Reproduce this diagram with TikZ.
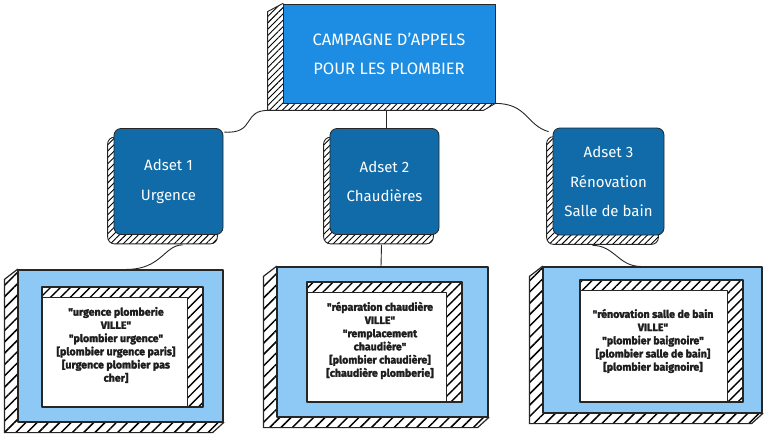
\documentclass[tikz,border=0pt]{standalone}
\usepackage{fontspec}
\setmainfont{Fira Sans}
\newfontfamily\kwfont{Fira Sans}[BoldFeatures={FakeBold=2.5}]
\usetikzlibrary{calc,backgrounds,patterns.meta}
\definecolor{campblue}{RGB}{28,141,226}
\definecolor{adblue}{RGB}{16,107,168}
\definecolor{kwblue}{RGB}{142,201,245}
\definecolor{kwink}{RGB}{30,30,30}

\begin{document}
\begin{tikzpicture}[
  x=1pt, y=-1pt,
  line join=round,
  campbox/.style={rectangle, draw=black!85, fill=campblue, line width=.8pt, inner sep=0pt,
    minimum width=212pt, minimum height=99pt, text=white, align=center,
    font=\fontsize{16.5}{29}\selectfont},
  adbox/.style={rectangle, rounded corners=7pt, draw=black!85, fill=adblue, line width=.8pt,
    inner sep=0pt, minimum width=109pt, minimum height=106pt, text=white, align=center,
    font=\fontsize{15}{29.5}\selectfont},
  kwbox/.style={rectangle, draw=black!85, fill=kwblue, line width=1.2pt, inner sep=0pt},
  kwlist/.style={rectangle, draw=black!85, line width=1.1pt, inner sep=0pt,
    preaction={fill=white}, pattern={Lines[angle=45,distance=7pt,line width=1.4pt]},
    path picture={
      \fill[white] ($(path picture bounding box.north west)+(0,10)$) rectangle ($(path picture bounding box.south east)+(-16,0)$);
      \draw[line width=.9pt] ($(path picture bounding box.north west)+(0,10)$) -- ($(path picture bounding box.north east)+(-16,10)$) -- ($(path picture bounding box.south east)+(-16,0)$);
    }},
  kwtext/.style={text=kwink, align=center, inner sep=0pt, font=\kwfont\bfseries\fontsize{10.6}{13.2}\selectfont},
  finehatch/.style={draw=black!85, line width=.9pt, preaction={fill=white},
    pattern={Lines[angle=45,distance=4.5pt,line width=.9pt]}},
  coarsehatch/.style={draw=black!85, line width=1.2pt, preaction={fill=white},
    pattern={Lines[angle=45,distance=8pt,line width=1.5pt]}},
  link/.style={draw=black!85, line width=.9pt}
]
  \useasboundingbox (0,0) rectangle (768,437);

  \node[campbox] (camp) at (389,53.5) {CAMPAGNE D'APPELS\\POUR LES PLOMBIER};

  \node[adbox] (ad1) at (168.5,181.5) {Adset 1\\Urgence};
  \node[adbox] (ad2) at (384.5,181.5) {Adset 2\\Chaudières};
  \node[adbox, minimum width=111pt, minimum height=107pt] (ad3) at (608.5,181.5) {Adset 3\\Rénovation\\Salle de bain};

  \node[kwbox, minimum width=205pt, minimum height=152pt] (kw1) at (120.5,346) {};
  \node[kwbox, minimum width=211pt, minimum height=150pt] (kw2) at (382.5,342) {};
  \node[kwbox, minimum width=219pt, minimum height=146pt] (kw3) at (652.5,340) {};

  \node[kwlist, minimum width=161pt, minimum height=120pt] (list1) at (122.5,347) {};
  \node[kwlist, minimum width=155pt, minimum height=120pt] (list2) at (384.5,342) {};
  \node[kwlist, minimum width=163pt, minimum height=122pt] (list3) at (661.5,341) {};

  \node[kwtext] (words1) at (116,345) {"urgence plomberie\\VILLE"\\"plombier urgence"\\{[plombier urgence paris]}\\{[urgence plombier pas}\\cher]};
  \node[kwtext] (words2) at (380,340.5) {"réparation chaudière\\VILLE"\\"remplacement\\chaudière"\\{[plombier chaudière]}\\{[chaudière plomberie]}};
  \node[kwtext] (words3) at (653,341) {"rénovation salle de bain\\VILLE"\\"plombier baignoire"\\{[plombier salle de bain]}\\{[plombier baignoire]}};

  \begin{pgfonlayer}{background}
    \fill[white] (0,0) rectangle (768,437);
    \path[finehatch] (camp.north west) -- ++(-15,8) -- ($(camp.south west)+(-15,7)$)
      -- ($(camp.south east)+(-12,7)$) -- (camp.south east) -- cycle;
    \foreach \n in {ad1,ad2,ad3}
      \path[finehatch, rounded corners=7pt] ($(\n.north west)+(-6,9)$) rectangle ($(\n.south east)+(-6,9)$);
    \foreach \n in {kw1,kw2,kw3}
      \path[coarsehatch] (\n.north west) -- ++(-13,10) -- ($(\n.south west)+(-13,10)$)
        -- ($(\n.south east)+(-11,10)$) -- (\n.south east) -- cycle;
  \end{pgfonlayer}

  \draw[link] ($(camp.south west)+(-13,7)$) .. controls +(-28,-1) and +(32,2) .. ($(ad1.north east)+(1,4)$);
  \draw[link] ($(camp.south)+(-3,7)$) -- ($(ad2.north)+(1.5,0)$);
  \draw[link] (camp.south east) .. controls +(32,0) and +(-22,-6) .. ($(ad3.north west)+(-4,4)$);

  \draw[link] ($(ad1.south)+(14,10)$) .. controls +(-18,0) and +(35,0) .. ($(kw1.north)+(6,0)$);
  \draw[link] ($(ad2.south)+(-3,10)$) -- ($(kw2.north)+(-1.5,0)$);
  \draw[link] ($(ad3.south)+(-16,10)$) .. controls +(22,0) and +(-22,0) .. ($(kw3.north)+(-12,0)$);
\end{tikzpicture}
\end{document}
